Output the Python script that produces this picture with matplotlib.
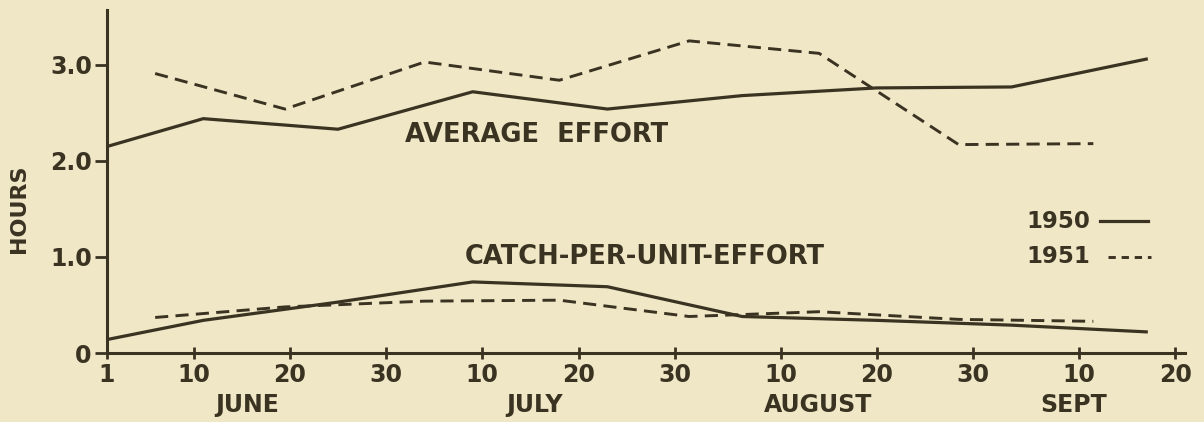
import matplotlib
matplotlib.use("Agg")
import matplotlib.pyplot as plt

# days counted from June 1 (June 1 = 0)
days_1950 = [0, 10, 24, 38, 52, 66, 80, 94, 108]
effort_1950 = [2.15, 2.44, 2.33, 2.72, 2.54, 2.68, 2.76, 2.77, 3.06]
cpue_1950 = [0.14, 0.34, 0.53, 0.74, 0.69, 0.38, 0.34, 0.29, 0.22]

days_1951 = [5, 18.5, 33, 47, 60.5, 74, 88.5, 102.5]
effort_1951 = [2.91, 2.54, 3.03, 2.84, 3.25, 3.12, 2.17, 2.18]
cpue_1951 = [0.37, 0.48, 0.54, 0.55, 0.38, 0.43, 0.35, 0.33]

tick_days = [0, 9, 19, 29, 39, 49, 59, 70, 80, 90, 101, 111]
tick_labels = ["1", "10", "20", "30", "10", "20", "30", "10", "20", "30", "10", "20"]
month_pos = [14.6, 44.4, 73.9, 100.5]
month_names = ["JUNE", "JULY", "AUGUST", "SEPT"]

bg = "#efe7c6"
ink = "#3a3322"

plt.rcParams["font.family"] = ["DejaVu Sans"]
plt.rcParams["font.weight"] = "bold"

fig = plt.figure(figsize=(12.04, 4.22), dpi=100, facecolor=bg)
ax = fig.add_axes([0.0889, 0.1635, 0.8951, 0.8125])
ax.set_facecolor(bg)

ax.plot(days_1950, effort_1950, color=ink, lw=2.3, solid_joinstyle="miter")
ax.plot(days_1950, cpue_1950, color=ink, lw=2.3, solid_joinstyle="miter")
ax.plot(days_1951, effort_1951, color=ink, lw=2.1, dashes=(4.5, 2.5))
ax.plot(days_1951, cpue_1951, color=ink, lw=2.1, dashes=(4.5, 2.5))

ax.set_xlim(0, 112)
ax.set_ylim(0, 3.57)

for side in ["top", "right"]:
    ax.spines[side].set_visible(False)
for side in ["left", "bottom"]:
    ax.spines[side].set_color(ink)
    ax.spines[side].set_linewidth(2.2)

ax.set_yticks([0, 1, 2, 3])
ax.set_yticklabels(["0", "1.0", "2.0", "3.0"])
ax.tick_params(axis="y", direction="out", length=9, width=2, color=ink,
               labelcolor=ink, labelsize=17, pad=2)
ax.set_xticks(tick_days)
ax.set_xticklabels(tick_labels)
ax.tick_params(axis="x", direction="inout", length=8, width=2, color=ink,
               labelcolor=ink, labelsize=17, pad=3)

for pos, name in zip(month_pos, month_names):
    ax.annotate(name, xy=(pos, -0.152), xycoords=("data", "axes fraction"),
                ha="center", va="center", fontsize=17, color=ink)

ax.set_ylabel("HOURS", fontsize=16, color=ink, fontweight="bold")
ax.yaxis.set_label_coords(-0.072, 0.42)

ax.text(31, 2.27, "AVERAGE  EFFORT", fontsize=18.5, color=ink,
        ha="left", va="center")
ax.text(37.2, 1.0, "CATCH-PER-UNIT-EFFORT", fontsize=18.5, color=ink,
        ha="left", va="center")

# legend drawn as text + line samples
ax.text(95.5, 1.37, "1950", fontsize=16.5, color=ink, ha="left", va="center")
ax.text(95.5, 1.0, "1951", fontsize=16.5, color=ink, ha="left", va="center")
ax.plot([103.2, 108.2], [1.37, 1.37], color=ink, lw=2.3)
ax.plot([104, 108.5], [1.0, 1.0], color=ink, lw=2.1, dashes=(2.5, 2))

fig.savefig("out.png", dpi=100, facecolor=bg)
